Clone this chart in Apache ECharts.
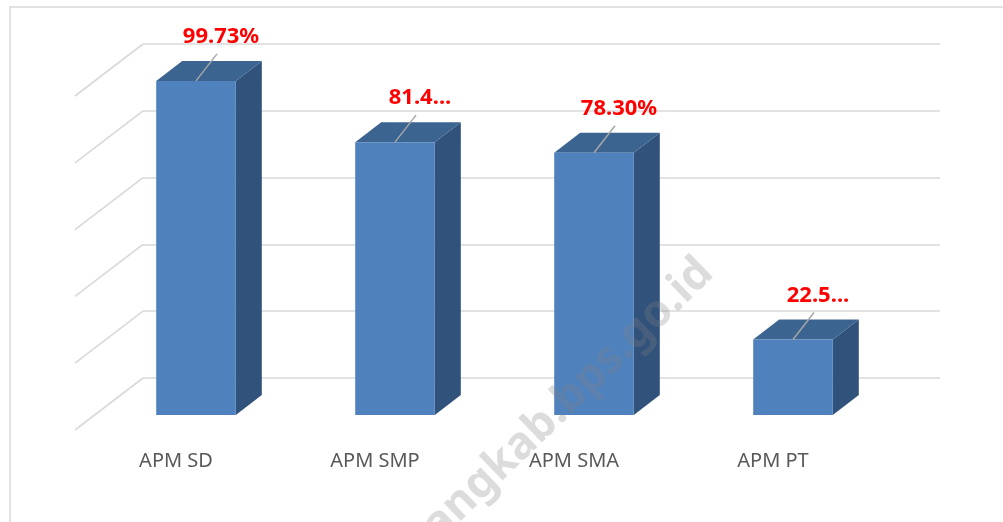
<!DOCTYPE html>
<html>
<head>
<meta charset="utf-8">
<script src="https://cdn.jsdelivr.net/npm/echarts@6/dist/echarts.min.js"></script>
<style>
html,body{margin:0;padding:0;background:#fff;}
#chart{width:1003px;height:522px;}
</style>
</head>
<body>
<div id="chart"></div>
<script>
const categories = ['APM SD', 'APM SMP', 'APM SMA', 'APM PT'];
const values = [99.73, 81.45, 78.30, 22.55];
const valueLabels = ['99.73%', '81.4...', '78.30%', '22.5...'];
const yMin = 0, yMax = 100, yInterval = 20;
const gridLevels = [0, 20, 40, 60, 80, 100];

const DEPTH_X = 26, DEPTH_Y = -20;
const WALL_X = -68, WALL_Y = 52;

const chart = echarts.init(document.getElementById('chart'), null, {renderer: 'canvas'});

const option = {
  animation: false,
  backgroundColor: '#ffffff',
  grid: [
    {left: 143, right: 63, top: 44, bottom: 144},
    {left: 96.5, width: 796, top: 80, bottom: 107}
  ],
  xAxis: [
    {gridIndex: 0, type: 'value', min: 0, max: 1, show: false},
    {gridIndex: 1, type: 'category', data: categories,
     axisLine: {show: false}, axisTick: {show: false},
     axisLabel: {color: '#595959', fontSize: 20, fontFamily: 'Noto Sans', margin: 36, padding: [0, 40, 0, 0]}}
  ],
  yAxis: [
    {gridIndex: 0, type: 'value', min: yMin, max: yMax, interval: yInterval,
     axisLine: {show: false}, axisTick: {show: false}, axisLabel: {show: false},
     splitLine: {show: true, lineStyle: {color: '#d9d9d9', width: 1.6}}},
    {gridIndex: 1, type: 'value', min: yMin, max: yMax, interval: yInterval, show: false,
     splitLine: {show: false}}
  ],
  series: [
    {
      type: 'custom',
      xAxisIndex: 0, yAxisIndex: 0,
      data: gridLevels.map(v => [0, v]),
      silent: true,
      renderItem: function (params, api) {
        const p = api.coord([0, api.value(1)]);
        return {
          type: 'line',
          shape: {x1: p[0], y1: p[1], x2: p[0] + WALL_X, y2: p[1] + WALL_Y},
          style: {stroke: '#d9d9d9', lineWidth: 1.6}
        };
      }
    },
    {
      type: 'custom',
      xAxisIndex: 1, yAxisIndex: 1,
      data: values.map((v, i) => [i, v]),
      z: 5,
      renderItem: function (params, api) {
        const idx = params.dataIndex;
        const top = api.coord([api.value(0), api.value(1)]);
        const base = api.coord([api.value(0), 0]);
        const bw = api.size([1, 0])[0] * 0.4;
        const l = top[0] - bw / 2, r = top[0] + bw / 2;
        const t = top[1], b = base[1];
        const cx = top[0];
        return {
          type: 'group',
          children: [
            {type: 'polygon', shape: {points: [[r, t], [r + DEPTH_X, t + DEPTH_Y], [r + DEPTH_X, b + DEPTH_Y], [r, b]]},
             style: {fill: '#31527b'}},
            {type: 'polygon', shape: {points: [[l, t], [r, t], [r + DEPTH_X, t + DEPTH_Y], [l + DEPTH_X, t + DEPTH_Y]]},
             style: {fill: '#3c6491'}},
            {type: 'rect', shape: {x: l, y: t, width: bw, height: b - t},
             style: {fill: '#4f81bd'}},
            {type: 'line', shape: {x1: cx, y1: t, x2: cx + 21, y2: t - 27},
             style: {stroke: '#a6a6a6', lineWidth: 1.5}},
            {type: 'text', x: cx + 25, y: t - 44,
             style: {text: valueLabels[idx], fill: '#ff0000', font: 'bold 22px "Noto Sans"',
                     textAlign: 'center', textVerticalAlign: 'middle'}}
          ]
        };
      }
    }
  ],
  graphic: [
    {type: 'rect', shape: {x: 10, y: 7, width: 1010, height: 530}, style: {fill: null, stroke: '#d9d9d9', lineWidth: 1.5}, z: 1},
    {type: 'text', x: 722, y: 282, rotation: 44 * Math.PI / 180, z: 100,
     style: {text: 'angkab.bps.go.id', font: 'bold 45px "Noto Sans"', fill: 'rgba(128,128,128,0.28)',
             textAlign: 'right', textVerticalAlign: 'bottom'}}
  ]
};
chart.setOption(option);
</script>
</body>
</html>
